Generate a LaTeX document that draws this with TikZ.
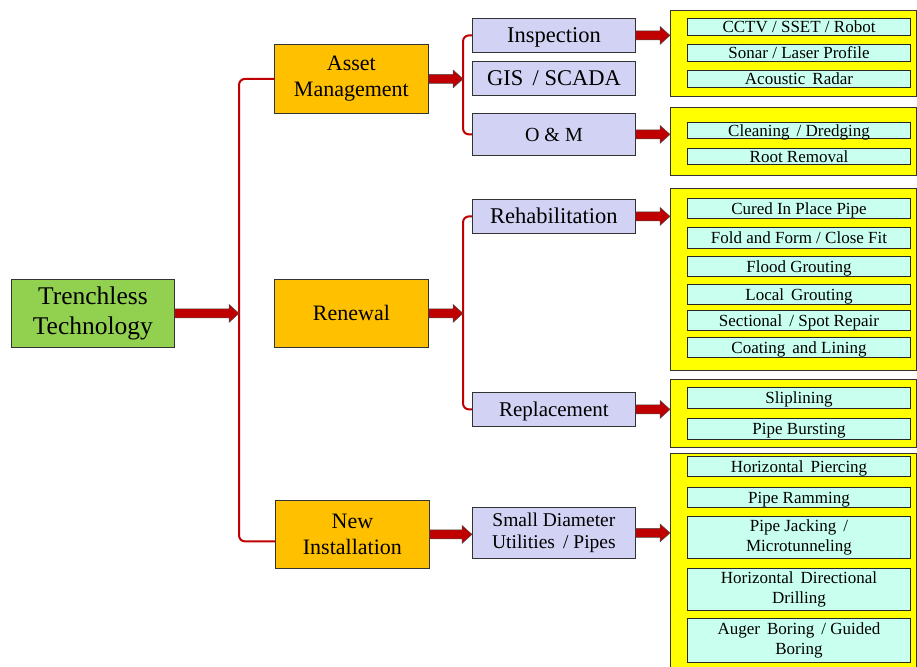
\documentclass[tikz,border=0pt]{standalone}
\usepackage{fontspec}
\setmainfont{Liberation Serif}
\usetikzlibrary{calc}
\definecolor{tgreen}{HTML}{92D050}
\definecolor{torange}{HTML}{FFC000}
\definecolor{tlav}{HTML}{D2D2F4}
\definecolor{tcyan}{HTML}{C8FFEE}
\definecolor{tyellow}{HTML}{FFFF00}
\definecolor{tred}{HTML}{C00000}
\newcommand{\fatarrow}[2]{\draw[fatarr] let \p1=(#1), \p2=(#2) in
  (\x1,\y1+4.5) -- (\x2-10,\y1+4.5) -- (\x2-10,\y1+9) -- (\x2,\y1) -- (\x2-10,\y1-9) -- (\x2-10,\y1-4.5) -- (\x1,\y1-4.5) -- cycle;}
\tikzset{
  box/.style={draw=black!80, line width=0.8pt, inner sep=0pt, anchor=north west, align=center},
  capc/.style={text height=#1, text depth=0pt},
  lvl1/.style={box, fill=torange, minimum width=154pt, minimum height=69pt, font=\fontsize{22}{26}\selectfont},
  lvl2/.style={box, fill=tlav, minimum width=163pt, minimum height=34pt, font=\fontsize{22.5}{25}\selectfont},
  ybox/.style={box, fill=tyellow, minimum width=246pt},
  cbox/.style={box, fill=tcyan, minimum width=223pt, line width=1pt, draw=black!85, font=\fontsize{17}{20.5}\selectfont},
  cb/.style={cbox, capc=11.2pt},
  fatarr/.style={fill=tred, draw=black!70, line width=0.5pt},
  brk/.style={draw=tred, line width=2pt, rounded corners=6pt}
}
\begin{document}
\begin{tikzpicture}[x=1pt,y=-1pt]
\useasboundingbox (0,0) rectangle (917,666);
% level 0
\node[box, fill=tgreen, minimum width=163pt, minimum height=68pt, font=\fontsize{25.5}{30}\selectfont] (tt) at (11,279) {Trenchless\\Technology};
% level 1
\node[lvl1] (am) at (274,44) {Asset\\Management};
\node[lvl1, minimum height=68pt, capc=14.5pt] (rn) at (274,279) {Renewal};
\node[lvl1, minimum height=68pt] (ni) at (275,500) {New\\Installation};
% level 2
\node[lvl2, capc=14.9pt] (insp) at (472,18) {Inspection};
\node[lvl2, capc=14.9pt] (gis) at (472,61) {GIS\, / SCADA};
\node[lvl2, minimum height=42pt, font=\fontsize{20}{22}\selectfont, capc=13.2pt] (om) at (472,113) {O \& M};
\node[lvl2, capc=14.9pt] (rehab) at (472,199) {Rehabilitation};
\node[lvl2, font=\fontsize{21}{24}\selectfont, capc=13.9pt] (repl) at (472,392) {Replacement};
\node[lvl2, minimum height=51pt, font=\fontsize{19.5}{22.5}\selectfont] (sd) at (472,507) {Small Diameter\\Utilities\, / Pipes};
% yellow groups
\node[ybox, minimum height=86pt] (y1) at (670,10) {};
\node[ybox, minimum height=68pt] (y2) at (670,107) {};
\node[ybox, minimum height=182pt] (y3) at (670,188) {};
\node[ybox, minimum height=68pt] (y4) at (670,379) {};
\node[ybox, minimum height=222pt] (y5) at (670,453) {};
% cyan items
\node[cb, minimum height=17pt] (c1) at (687,18) {CCTV / SSET / Robot};
\node[cb, minimum height=17pt] (c2) at (687,44) {Sonar / Laser Profile};
\node[cb, minimum height=17pt] (c3) at (687,70) {Acoustic\, Radar};
\node[cb, minimum height=16pt] (c4) at (687,122) {Cleaning\, / Dredging};
\node[cb, minimum height=16pt] (c5) at (687,148) {Root Removal};
\node[cb, minimum height=20pt] (c6) at (687,198) {Cured In Place Pipe};
\node[cb, minimum height=21pt] (c7) at (687,227) {Fold and Form / Close Fit};
\node[cb, minimum height=20pt] (c8) at (687,256) {Flood Grouting};
\node[cb, minimum height=20pt] (c9) at (687,284) {Local\, Grouting};
\node[cb, minimum height=20pt] (c10) at (687,310) {Sectional\, / Spot Repair};
\node[cb, minimum height=20pt] (c11) at (687,337) {Coating\, and Lining};
\node[cb, minimum height=21pt] (c12) at (687,387) {Sliplining};
\node[cb, minimum height=21pt] (c13) at (687,418) {Pipe Bursting};
\node[cb, minimum height=20pt] (c14) at (687,456) {Horizontal\, Piercing};
\node[cb, minimum height=20pt] (c15) at (687,487) {Pipe Ramming};
\node[cbox, minimum height=42pt] (c16) at (687,516) {Pipe Jacking\, /\\Microtunneling};
\node[cbox, minimum height=42pt] (c17) at (687,568) {Horizontal\, Directional\\Drilling};
\node[cbox, minimum height=44pt] (c18) at (687,618) {Auger\, Boring\, / Guided\\Boring};
% bracket points
\coordinate (br1) at (239,312);
\coordinate (br2) at (463,79);
\coordinate (br3) at (463,311);
% brackets
\draw[brk] (am.west) -| (br1) |- ($(ni.west)+(0,7)$);
\draw[brk] (insp.west) -| (br2) |- (om.west);
\draw[brk] (rehab.west) -| (br3) |- (repl.west);
% arrows
\fatarrow{tt.east}{br1}
\fatarrow{am.east}{br2}
\fatarrow{rn.east}{br3}
\fatarrow{ni.east}{sd.west}
\fatarrow{insp.east}{y1.west}
\fatarrow{om.east}{y2.west}
\fatarrow{rehab.east}{y3.west}
\fatarrow{repl.east}{y4.west}
\fatarrow{sd.east}{y5.west}
\end{tikzpicture}
\end{document}
